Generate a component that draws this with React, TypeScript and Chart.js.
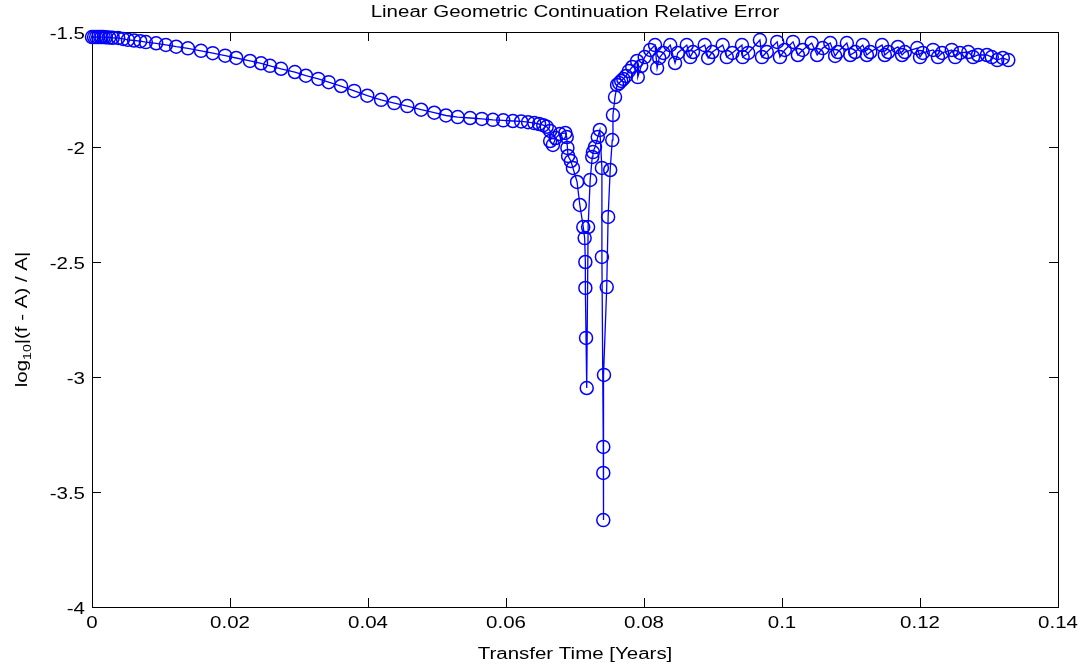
import React, { useEffect, useRef } from "react";
import { Chart, registerables } from "chart.js";

Chart.register(...registerables);

const chartTitle = "Linear Geometric Continuation Relative Error";
const xAxisTitle = "Transfer Time [Years]";

const xTickValues = [0, 0.02, 0.04, 0.06, 0.08, 0.1, 0.12, 0.14];
const xTickLabels = ["0", "0.02", "0.04", "0.06", "0.08", "0.1", "0.12", "0.14"];
const yTickValues = [-4, -3.5, -3, -2.5, -2, -1.5];
const yTickLabels = ["-4", "-3.5", "-3", "-2.5", "-2", "-1.5"];

// Transfer time [years]
const transferTime = [
  0.0, 0.0003, 0.0006, 0.0009, 0.0012, 0.0014, 0.0017, 0.002, 0.0025, 0.003,
  0.0038, 0.0045, 0.0052, 0.0061, 0.007, 0.0078, 0.0093, 0.0107, 0.0122, 0.0139,
  0.0158, 0.0175, 0.0193, 0.0209, 0.0229, 0.0245, 0.0258, 0.0274, 0.0294, 0.031,
  0.0328, 0.0343, 0.0361, 0.038, 0.0399, 0.0419, 0.0438, 0.0457, 0.0477, 0.0496,
  0.0513, 0.053, 0.0548, 0.0565, 0.0581, 0.0596, 0.061, 0.0622, 0.0632, 0.0641,
  0.0648, 0.0654, 0.0659, 0.0664, 0.0664, 0.0668, 0.0672, 0.0678, 0.0686, 0.0688,
  0.0689, 0.069, 0.0694, 0.0697, 0.0703, 0.0707, 0.0712, 0.0714, 0.0715, 0.0715,
  0.0716, 0.0717, 0.0719, 0.0722, 0.0725, 0.0726, 0.0729, 0.0733, 0.0736, 0.0739,
  0.0739, 0.0741, 0.0741, 0.0741, 0.0742, 0.0746, 0.0748, 0.0751, 0.0754, 0.0755,
  0.0758, 0.0761, 0.0764, 0.0767, 0.077, 0.0774, 0.0778, 0.0783, 0.079, 0.0791,
  0.0796, 0.0801, 0.0809, 0.0816, 0.0819, 0.0822, 0.0828,
  0.0838, 0.0845, 0.0849, 0.0862, 0.0867, 0.0871, 0.0888, 0.0893, 0.0899,
  0.0914, 0.092, 0.0928, 0.0942, 0.0943, 0.0951, 0.0968, 0.0971, 0.0978,
  0.0993, 0.0997, 0.1004, 0.1016, 0.1023, 0.103, 0.1043, 0.1051, 0.1059,
  0.107, 0.1077, 0.1081, 0.1094, 0.1099, 0.1106, 0.1117, 0.1123, 0.1128,
  0.1145, 0.1149, 0.1154, 0.1168, 0.1174, 0.1178, 0.1196, 0.12, 0.1204,
  0.1219, 0.1226, 0.1232, 0.1246, 0.1251, 0.1258, 0.127, 0.1277, 0.1284,
  0.1297, 0.1304, 0.1312, 0.132, 0.1328,
];

// log10 |(f - A) / A|
const logRelError = [
  -1.522, -1.522, -1.522, -1.522, -1.522, -1.522, -1.522, -1.523, -1.524, -1.525,
  -1.526, -1.53, -1.534, -1.537, -1.54, -1.544, -1.549, -1.556, -1.564, -1.571,
  -1.582, -1.592, -1.603, -1.613, -1.626, -1.636, -1.647, -1.66, -1.674, -1.69,
  -1.704, -1.718, -1.735, -1.756, -1.777, -1.795, -1.809, -1.822, -1.838, -1.851,
  -1.863, -1.87, -1.874, -1.878, -1.882, -1.884, -1.887, -1.889, -1.892, -1.896,
  -1.9, -1.905, -1.912, -1.93, -1.974, -1.991, -1.961, -1.943, -1.939, -1.957,
  -2.004, -2.039, -2.061, -2.091, -2.152, -2.252, -2.348, -2.396, -2.5, -2.613,
  -2.83, -3.048, -2.348, -2.143, -2.043, -2.022, -2.0, -1.957, -1.926, -2.091,
  -2.478, -3.304, -3.417, -3.622, -2.991, -2.609, -2.304, -2.1, -1.97, -1.861,
  -1.783, -1.73, -1.722, -1.713, -1.704, -1.691, -1.67, -1.652, -1.626, -1.696,
  -1.648, -1.609, -1.578, -1.557, -1.657, -1.613, -1.591,
  -1.557, -1.635, -1.591, -1.557, -1.609, -1.587, -1.557, -1.613, -1.587,
  -1.557, -1.609, -1.591, -1.557, -1.609, -1.591, -1.535, -1.609, -1.587,
  -1.543, -1.609, -1.578, -1.543, -1.6, -1.578, -1.548, -1.6, -1.57,
  -1.548, -1.604, -1.587, -1.548, -1.6, -1.587, -1.557, -1.6, -1.587,
  -1.557, -1.6, -1.587, -1.565, -1.6, -1.587, -1.57, -1.609, -1.591,
  -1.578, -1.609, -1.591, -1.578, -1.609, -1.591, -1.587, -1.609, -1.6,
  -1.6, -1.609, -1.622, -1.613, -1.622,
];

const FONT = '16px "Liberation Sans", Arial, Helvetica, sans-serif';
const SUB_FONT = '11px "Liberation Sans", Arial, Helvetica, sans-serif';
const STRETCH = 1.28;
const TICK_LEN = 9;

function drawStretched(
  ctx: CanvasRenderingContext2D,
  text: string,
  x: number,
  y: number,
  align: CanvasTextAlign
) {
  ctx.save();
  ctx.translate(x, y);
  ctx.scale(STRETCH, 1);
  ctx.textAlign = align;
  ctx.fillText(text, 0, 0);
  ctx.restore();
}

const framePlugin = {
  id: "matlabFrame",
  beforeDatasetsDraw(chart: any) {
    const { ctx, chartArea, scales } = chart;
    const { left, right, top, bottom } = chartArea;
    ctx.save();
    ctx.strokeStyle = "#000";
    ctx.lineWidth = 1;
    ctx.strokeRect(Math.round(left) + 0.5, Math.round(top) + 0.5, Math.round(right - left), Math.round(bottom - top));
    ctx.beginPath();
    xTickValues.forEach((v) => {
      const px = Math.round(scales.x.getPixelForValue(v)) + 0.5;
      ctx.moveTo(px, bottom);
      ctx.lineTo(px, bottom - TICK_LEN);
      ctx.moveTo(px, top);
      ctx.lineTo(px, top + TICK_LEN);
    });
    yTickValues.forEach((v) => {
      const py = Math.round(scales.y.getPixelForValue(v)) + 0.5;
      ctx.moveTo(left, py);
      ctx.lineTo(left + TICK_LEN, py);
      ctx.moveTo(right, py);
      ctx.lineTo(right - TICK_LEN, py);
    });
    ctx.stroke();
    ctx.restore();
  },
  afterDraw(chart: any) {
    const { ctx, chartArea, scales } = chart;
    const { left, right } = chartArea;
    const cx = (left + right) / 2;
    ctx.save();
    ctx.fillStyle = "#000";
    ctx.font = FONT;
    ctx.textBaseline = "alphabetic";
    drawStretched(ctx, chartTitle, cx, 17, "center");
    xTickValues.forEach((v, i) => {
      drawStretched(ctx, xTickLabels[i], scales.x.getPixelForValue(v), 628, "center");
    });
    yTickValues.forEach((v, i) => {
      drawStretched(ctx, yTickLabels[i], left - 7, scales.y.getPixelForValue(v) + 6.5, "right");
    });
    drawStretched(ctx, xAxisTitle, cx, 659, "center");

    // y-axis title with subscript: log10|(f - A) / A|
    const cy = (chartArea.top + chartArea.bottom) / 2;
    ctx.translate(27, cy);
    ctx.rotate(-Math.PI / 2);
    ctx.scale(STRETCH, 1);
    ctx.textAlign = "left";
    ctx.font = FONT;
    const a = "log";
    const c = "|(f - A) / A|";
    const wa = ctx.measureText(a).width;
    const wc = ctx.measureText(c).width;
    ctx.font = SUB_FONT;
    const b = "10";
    const wb = ctx.measureText(b).width;
    const total = wa + wb + wc;
    let x0 = -total / 2;
    ctx.font = FONT;
    ctx.fillText(a, x0, 0);
    x0 += wa;
    ctx.font = SUB_FONT;
    ctx.fillText(b, x0, 4);
    x0 += wb;
    ctx.font = FONT;
    ctx.fillText(c, x0, 0);
    ctx.restore();
  },
};

export default function App() {
  const canvasRef = useRef<HTMLCanvasElement | null>(null);

  useEffect(() => {
    const canvas = canvasRef.current;
    if (!canvas) return;
    const points = transferTime.map((t, i) => ({ x: t, y: logRelError[i] }));
    const chart = new Chart(canvas, {
      type: "scatter",
      data: {
        datasets: [
          {
            data: points,
            showLine: true,
            borderColor: "#0000ff",
            borderWidth: 1.3,
            pointStyle: "circle",
            pointRadius: 6.5,
            pointBorderWidth: 1.5,
            pointBorderColor: "#0000ff",
            pointBackgroundColor: "rgba(0,0,0,0)",
            tension: 0,
            clip: false as any,
          },
        ],
      },
      options: {
        responsive: false,
        animation: false,
        devicePixelRatio: 1,
        layout: { padding: { top: 32, right: 28, left: 0, bottom: 0 } },
        plugins: {
          legend: { display: false },
          tooltip: { enabled: false },
          title: { display: false },
        },
        scales: {
          x: {
            type: "linear",
            min: 0,
            max: 0.14,
            grid: { display: false, drawTicks: false },
            border: { display: false },
            ticks: { display: false },
            afterBuildTicks: (s: any) => {
              s.ticks = xTickValues.map((v) => ({ value: v }));
            },
            afterFit: (s: any) => {
              s.height = 60;
            },
          },
          y: {
            type: "linear",
            min: -4,
            max: -1.5,
            grid: { display: false, drawTicks: false },
            border: { display: false },
            ticks: { display: false },
            afterBuildTicks: (s: any) => {
              s.ticks = yTickValues.map((v) => ({ value: v }));
            },
            afterFit: (s: any) => {
              s.width = 92;
            },
          },
        },
      },
      plugins: [framePlugin],
    });
    return () => chart.destroy();
  }, []);

  return (
    <div style={{ position: "fixed", left: 0, top: 0, width: 1086, height: 667, background: "#fff" }}>
      <canvas ref={canvasRef} width={1086} height={667} style={{ display: "block" }} />
    </div>
  );
}
